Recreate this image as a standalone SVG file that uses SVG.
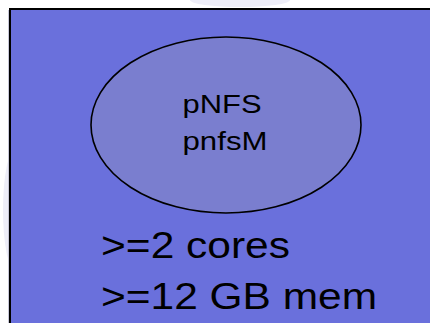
<svg xmlns="http://www.w3.org/2000/svg" width="430" height="323" viewBox="0 0 430 323">
<style>
.lbl{font-family:"Liberation Sans",Arial,sans-serif;fill:#000}
.big{font-size:37px}
.small{font-size:26px}
</style>
<rect width="430" height="323" fill="#ffffff"/>
<g id="bg-deco" fill="#eeeef8">
<ellipse cx="240" cy="0" rx="50" ry="7"/>
<ellipse cx="15" cy="210" rx="12" ry="60"/>
</g>
<line x1="8.5" y1="10" x2="8.5" y2="323" stroke="#c8c8d8" stroke-width="1"/>
<g id="frame">
<rect x="10" y="9" width="430" height="330" fill="#6a70dc" stroke="#000" stroke-width="2"/>
</g>
<g id="node-pnfs">
<ellipse cx="226" cy="125" rx="135" ry="88" fill="#7a7ecf" stroke="#000" stroke-width="1.6"/>
<text class="lbl small" x="182.5" y="112.5" textLength="79" lengthAdjust="spacingAndGlyphs">pNFS</text>
<text class="lbl small" x="182.5" y="150" textLength="85" lengthAdjust="spacingAndGlyphs">pnfsM</text>
</g>
<g id="specs">
<text class="lbl big" x="101" y="258" textLength="189" lengthAdjust="spacingAndGlyphs">&gt;=2 cores</text>
<text class="lbl big" x="101" y="309" textLength="276" lengthAdjust="spacingAndGlyphs">&gt;=12 GB mem</text>
</g>
<g id="connectors"/>
</svg>
